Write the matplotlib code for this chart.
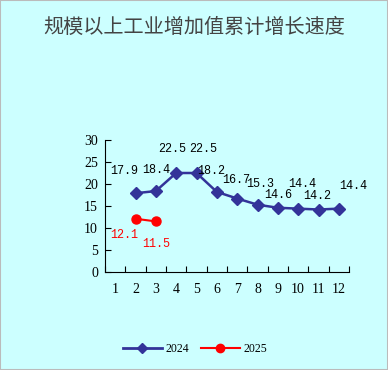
import matplotlib.pyplot as plt
from matplotlib.lines import Line2D

plt.rcParams['font.family'] = ['Noto Sans CJK SC', 'DejaVu Sans']

title = '规模以上工业增加值累计增长速度'
months = list(range(1, 13))
months_2024 = [2, 3, 4, 5, 6, 7, 8, 9, 10, 11, 12]
values_2024 = [17.9, 18.4, 22.5, 22.5, 18.2, 16.7, 15.3, 14.6, 14.4, 14.2, 14.4]
months_2025 = [2, 3]
values_2025 = [12.1, 11.5]

# décalages des étiquettes en points (x, y)
offsets_2024 = [(-8, 16), (0, 15), (-3, 17), (5, 17), (-4, 15), (-1, 13), (2, 15), (0, 9), (3, 18), (-1, 10), (10, 16)]
offsets_2025 = [(-8, -12), (0, -16)]

bg = '#CCFFFF'
c24 = '#333399'
c25 = '#FF0000'

fig = plt.figure(figsize=(3.88, 3.70), dpi=100, facecolor=bg)
ax = fig.add_axes([105/388, 1 - 272/370, 244/388, 132/370])
ax.set_facecolor(bg)

ax.plot(months_2024, values_2024, color=c24, marker='D', markersize=6.5, linewidth=1.8)
ax.plot(months_2025, values_2025, color=c25, marker='o', markersize=6.5, linewidth=1.5)

for m, v, off in zip(months_2024, values_2024, offsets_2024):
    ax.annotate(f'{v:.1f}', (m, v), xytext=off, textcoords='offset points',
                ha='center', va='center', fontsize=8.5, family='Liberation Mono', color='black')
for m, v, off in zip(months_2025, values_2025, offsets_2025):
    ax.annotate(f'{v:.1f}', (m, v), xytext=off, textcoords='offset points',
                ha='center', va='center', fontsize=8.5, family='Liberation Mono', color=c25)

ax.set_xlim(0.5, 12.5)
ax.set_ylim(0, 30)
ax.set_yticks(range(0, 31, 5))
ax.set_xticks([m + 0.5 for m in range(0, 13)])
ax.set_xticklabels([])
ax.set_xticks(months, minor=True)
ax.set_xticklabels([str(m) for m in months], minor=True, fontsize=10, family='Liberation Serif')
ax.tick_params(axis='x', which='minor', length=0, pad=8)
ax.tick_params(axis='x', which='major', direction='in', length=4)
ax.tick_params(axis='y', direction='in', length=4, labelsize=10, pad=5)
for lab in ax.get_yticklabels():
    lab.set_family('Liberation Serif')
for s in ['top', 'right']:
    ax.spines[s].set_visible(False)

fig.text(0.5, 1 - 27/370, title, ha='center', va='center', fontsize=14.5, color='#444444')

handles = [Line2D([], [], color=c24, marker='D', markersize=5, linewidth=2),
           Line2D([], [], color=c25, marker='o', markersize=6, linewidth=1.5)]
fig.legend(handles, ['2024', '2025'], loc='center', bbox_to_anchor=(195/388, 1 - 349/370),
           ncol=2, frameon=False, prop={'family': 'Liberation Serif', 'size': 8.5},
           handlelength=3.3, columnspacing=1.0, handletextpad=0.3)

fig.patches.append(plt.Rectangle((0, 0), 1, 1, transform=fig.transFigure, fill=False,
                                 edgecolor='#BBBBBB', linewidth=1.5))
fig.savefig('out.png', dpi=100, facecolor=bg)
